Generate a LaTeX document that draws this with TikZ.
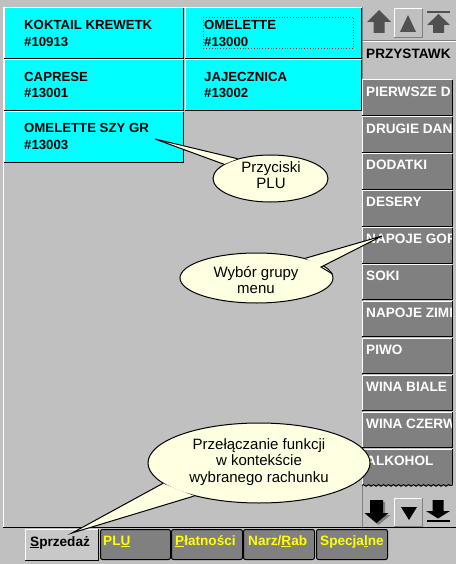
\documentclass[tikz,border=0pt]{standalone}
\usepackage{fontspec}
\setmainfont{Liberation Sans}
\usetikzlibrary{shapes.geometric,decorations.pathmorphing}
\definecolor{wgray}{RGB}{192,192,192}
\definecolor{dgray}{RGB}{128,128,128}
\definecolor{dith}{RGB}{80,80,80}
\definecolor{cyanb}{RGB}{0,255,255}
\definecolor{tipcol}{RGB}{255,255,225}
\definecolor{yel}{RGB}{255,255,0}
\definecolor{focusred}{RGB}{150,40,40}
\definecolor{tabgray}{RGB}{200,200,200}
\begin{document}
\begin{tikzpicture}[x=1pt,y=-1pt,
  cbtn/.style={rectangle, fill=cyanb, minimum width=179, minimum height=50, inner sep=0, anchor=north west},
  gbtn/.style={rectangle, fill=dgray, minimum width=90, minimum height=35, inner sep=0, anchor=north west},
  sqbtn/.style={rectangle, minimum width=28, minimum height=28, inner sep=0, anchor=north west},
  tabL/.style={rectangle, fill=tabgray, minimum width=73, minimum height=31, inner sep=0, anchor=north west},
  tabD/.style={rectangle, fill=dgray, draw=black, line width=1, rounded corners=2, minimum height=30, inner sep=0, anchor=north west},
  btxt/.style={anchor=north west, align=left, inner sep=0, font=\bfseries\fontsize{13.2}{16.5}\selectfont},
  gtxt/.style={anchor=north west, inner sep=0, text=white, font=\bfseries\fontsize{13.6}{16}\selectfont},
  tabtxt/.style={anchor=base west, inner sep=0, font=\bfseries\fontsize{13.6}{16}\selectfont},
  bubble/.style={ellipse, fill=tipcol, draw=black, line width=1, inner sep=0},
  bubtxt/.style={align=center, inner sep=0, font=\fontsize{15}{16.3}\selectfont},
  hi/.style={white, line width=1},
  lo/.style={black, line width=1.4}]
\useasboundingbox (0,0) rectangle (456,564);
\fill[wgray] (0,0) rectangle (456,564);
% main panel frame
\draw[hi] (3.5,527) -- (3.5,7.5) -- (362,7.5);
\draw[black, line width=1] (3,527.5) -- (456,527.5);
\draw[dgray, line width=1] (362.5,7) -- (362.5,527);
% PLU buttons
\node[cbtn] (b1) at (4,8) {};
\node[cbtn, minimum width=176] (b2) at (185,8) {};
\node[cbtn] (b3) at (4,60) {};
\node[cbtn, minimum width=176] (b4) at (185,60) {};
\node[cbtn] (b5) at (4,112) {};
\foreach \n in {b1,b2,b3,b4,b5}{
  \draw[hi] (\n.south west) -- (\n.north west) -- (\n.north east);
  \draw[lo] (\n.north east) -- (\n.south east) -- (\n.south west);
}
\node[draw=focusred, dotted, line width=0.8, minimum width=150, minimum height=31, inner sep=0, anchor=north west] (focus) at (203,17) {};
\node[btxt] (t1) at (24,20.5) {KOKTAIL KREWETK\\\#10913};
\node[btxt] (t2) at (204,20.5) {OMELETTE\\\#13000};
\node[btxt] (t3) at (24,72) {CAPRESE\\\#13001};
\node[btxt] (t4) at (204,72) {JAJECZNICA\\\#13002};
\node[btxt] (t5) at (24,123.5) {OMELETTE SZY GR\\\#13003};
% right column top
\draw[dgray, line width=1] (363,40.5) -- (456,40.5);
\draw[hi] (363,41.5) -- (456,41.5);
\fill[dith] (379,10) -- (391,22) -- (384.5,22) -- (384.5,33) -- (373.5,33) -- (373.5,22) -- (367,22) -- cycle;
\node[sqbtn] (up1) at (394,9) {};
\draw[hi] (up1.south west) -- (up1.north west) -- (up1.north east);
\draw[dgray, line width=1] (up1.north east) -- (up1.south east) -- (up1.south west);
\fill[dith] (408,15) -- (416,32) -- (400,32) -- cycle;
\fill[dith] (427,11) rectangle (450,13.5);
\fill[dith] (438.5,14) -- (450,25) -- (444,25) -- (444,33) -- (433,33) -- (433,25) -- (427,25) -- cycle;
\node[gtxt, text=black] (przy) at (366,48.5) {PRZYSTAWK};
% group buttons
\foreach \t [count=\i from 0] in {PIERWSZE D,DRUGIE DAN,DODATKI,DESERY,NAPOJE GOR,SOKI,NAPOJE ZIMN,PIWO,WINA BIALE,WINA CZERW}{
  \pgfmathsetmacro{\ty}{80+36.9*\i}
  \node[gbtn] (g\i) at (362,\ty) {};
  \draw[hi] (g\i.south west) -- (g\i.north west) -- (g\i.north east);
  \draw[black, line width=1] (g\i.north east) -- (g\i.south east) -- (g\i.south west);
}
\node[gbtn, minimum height=36] (g10) at (362,449) {};
\draw[hi] (g10.south west) -- (g10.north west) -- (g10.north east);
\draw[black, line width=1] (g10.north east) -- (g10.south east);
\draw[black, line width=1, decorate, decoration={snake, amplitude=0.8, segment length=5}] (g10.south west) -- (g10.south east);
\begin{scope}
\clip (362,70) rectangle (451,490);
\foreach \t [count=\i from 0] in {PIERWSZE D,DRUGIE DAN,DODATKI,DESERY,NAPOJE GOR,SOKI,NAPOJE ZIMN,PIWO,WINA BIALE,WINA CZERW,ALKOHOL}{
  \pgfmathsetmacro{\ty}{86.5+36.9*\i}
  \node[gtxt] (h\i) at (366,\ty) {\t};
}
\end{scope}
% bottom arrows
\fill[dgray] (372,502) -- (385,502) -- (385,515) -- (390.5,515) -- (378.5,525) -- (366.5,515) -- (372,515) -- cycle;
\fill[black] (370,500) -- (383,500) -- (383,513) -- (388.5,513) -- (376.5,523) -- (364.5,513) -- (370,513) -- cycle;
\node[sqbtn] (dn1) at (394,498) {};
\draw[hi] (dn1.south west) -- (dn1.north west) -- (dn1.north east);
\draw[dgray, line width=1] (dn1.north east) -- (dn1.south east) -- (dn1.south west);
\fill[black] (401,507) -- (417,507) -- (409,520) -- cycle;
\fill[black] (432.5,500) -- (443.5,500) -- (443.5,511) -- (450,511) -- (438,518.5) -- (426,511) -- (432.5,511) -- cycle;
\fill[black] (427,520) rectangle (450,522);
% tabs
\node[tabL] (tab1) at (25,529) {};
\draw[hi] (tab1.south west) -- (tab1.north west) -- (tab1.north east);
\draw[black, line width=1] (tab1.north east) -- (tab1.south east) -- (tab1.south west);
\node[tabD, minimum width=70] (tab2) at (100,529) {};
\node[tabD, minimum width=71] (tab3) at (171,529) {};
\node[tabD, minimum width=71] (tab4) at (243,529) {};
\node[tabD, minimum width=71] (tab5) at (316,529) {};
\node[tabtxt] (s1) at (30,546) {\underline{S}przedaż};
\node[tabtxt, text=yel] (s2) at (103,545) {PL\underline{U}};
\node[tabtxt, text=yel] (s3) at (175,545) {\underline{P}łatności};
\node[tabtxt, text=yel] (s4) at (248,545) {Narz/\underline{R}ab};
\node[tabtxt, text=yel] (s5) at (320,545) {Specja\underline{l}ne};
% callout 1
\node[bubble, minimum width=115, minimum height=47] (e1) at (270.5,178.5) {};
\coordinate (tip1) at (155,139);
\fill[tipcol] (e1.149) -- (tip1) -- (e1.163) -- cycle;
\draw[black, line width=1] (e1.149) -- (tip1) -- (e1.163);
\node[bubtxt] (c1) at (271,175) {Przyciski\\PLU};
% callout 2
\node[bubble, minimum width=153, minimum height=50] (e2) at (256.5,278) {};
\coordinate (tip2) at (382,236);
\coordinate (k2) at (321,267);
\fill[tipcol] (e2.22) -- (tip2) -- (k2) -- (e2.3) -- cycle;
\draw[black, line width=1] (e2.22) -- (tip2) -- (k2) -- (e2.3);
\node[bubtxt] (c2) at (256,280) {Wybór grupy\\menu};
% callout 3
\node[bubble, minimum width=222, minimum height=80] (e3) at (259,463) {};
\coordinate (tip3) at (72,533);
\fill[tipcol] (e3.192) -- (tip3) -- (e3.207) -- cycle;
\draw[black, line width=1] (e3.192) -- (tip3) -- (e3.207);
\node[bubtxt] (c3) at (259,462) {Przełączanie funkcji\\w kontekście\\wybranego rachunku};
\end{tikzpicture}
\end{document}
